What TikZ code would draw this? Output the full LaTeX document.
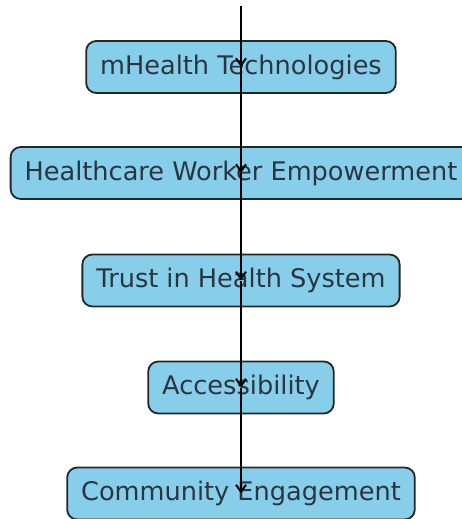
\documentclass[tikz,border=0pt]{standalone}
\usepackage{fontspec}
\setmainfont{DejaVu Sans}
\usetikzlibrary{arrows.meta}
\definecolor{boxblue}{HTML}{87CEEB}
\definecolor{boxtext}{HTML}{2B3540}
\begin{document}
\begin{tikzpicture}[x=1pt,y=-1pt,
    stepnode/.style={draw=black!85,line width=1.8pt,fill=boxblue,rounded corners=10pt,
      text=boxtext,font=\fontsize{25.6}{30}\selectfont,minimum height=52pt,inner xsep=14pt},
    link/.style={draw,-{Straight Barb[length=7pt,width=10pt]},line width=2pt}]
      \useasboundingbox (0,0) rectangle (462,519);
      \def \Nodes{
        tech/241/67/mHealth Technologies,
        worker/241/173/Healthcare Worker Empowerment,
        trust/241/280.5/Trust in Health System,
        access/241/387.5/Accessibility,
        community/241/493.5/Community Engagement}
      \def \Edges{
        tech/worker,
        worker/trust,
        trust/access,
        access/community}
      \coordinate (top) at (241,6);
      \foreach \id / \x / \y / \t in \Nodes{
        \node[stepnode] (\id) at (\x, \y) {\t};
      }
      \path[link] (top) -- (tech.center);
      \foreach \x / \y in \Edges{
        \path[link] (\x.center) -- (\y.center);
      }
    \end{tikzpicture}
\end{document}
